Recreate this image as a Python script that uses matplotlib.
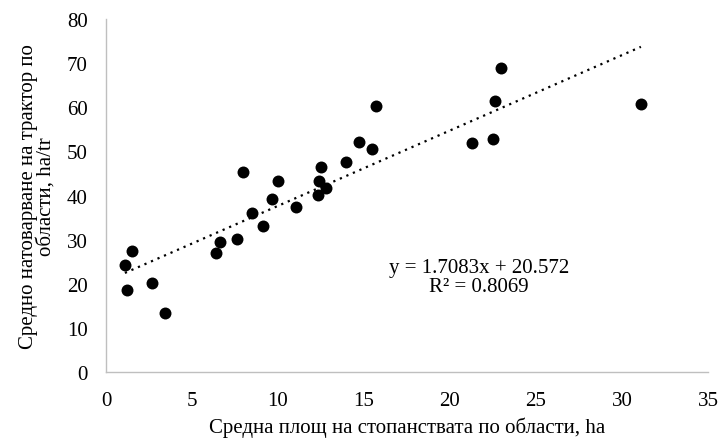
import numpy as np
import matplotlib
matplotlib.use("Agg")
import matplotlib.pyplot as plt

plt.rcParams['font.family'] = ['Liberation Serif', 'DejaVu Serif']

# average farm size by region, ha
farm_area = [1.10, 1.53, 1.24, 2.69, 3.41, 6.38, 6.63, 7.62, 7.97, 8.51,
             9.13, 9.67, 9.98, 11.03, 12.31, 12.38, 12.48, 12.81, 13.95, 14.73,
             15.48, 15.68, 21.30, 22.48, 22.60, 22.95, 31.10]
# average load per tractor by region, ha/tr
tractor_load = [24.3, 27.4, 18.7, 20.2, 13.4, 27.0, 29.5, 30.1, 45.3, 36.0,
                33.1, 39.1, 43.3, 37.4, 40.1, 43.2, 46.4, 41.7, 47.6, 52.2,
                50.5, 60.2, 51.9, 52.8, 61.4, 68.8, 60.7]

slope = 1.7083
intercept = 20.572
r2 = 0.8069

fig = plt.figure(figsize=(7.22, 4.39), dpi=100)
ax = fig.add_axes([0.1468, 0.1503, 0.8338, 0.8041])

ax.scatter(farm_area, tractor_load, s=74, color='black', zorder=3, linewidths=0)

# linear trend line over the data range
xt = np.array([min(farm_area), max(farm_area)])
ax.plot(xt, slope * xt + intercept, color='black', linewidth=1.6,
        linestyle=(0, (1, 2.2)), zorder=2)

ax.text(21.7, 21.6, f"y = {slope}x + {intercept}\nR² = {r2}", ha='center',
        va='center', fontsize=15, linespacing=1.0)

ax.set_xlim(0, 35)
ax.set_ylim(0, 80)
ax.set_xticks(range(0, 36, 5))
ax.set_yticks(range(0, 81, 10))
ax.tick_params(length=0, labelsize=15)
ax.tick_params(axis='x', pad=14)
ax.tick_params(axis='y', pad=13)

for side in ['top', 'right']:
    ax.spines[side].set_visible(False)
for side in ['left', 'bottom']:
    ax.spines[side].set_color('#bfbfbf')
    ax.spines[side].set_linewidth(1)

ax.set_xlabel("Средна площ на стопанствата по области, ha", fontsize=15, labelpad=4)
ax.set_ylabel("Средно натоварване на трактор по\nобласти, ha/tr", fontsize=15,
              labelpad=8, linespacing=0.95)

fig.savefig("out.png", dpi=100)
